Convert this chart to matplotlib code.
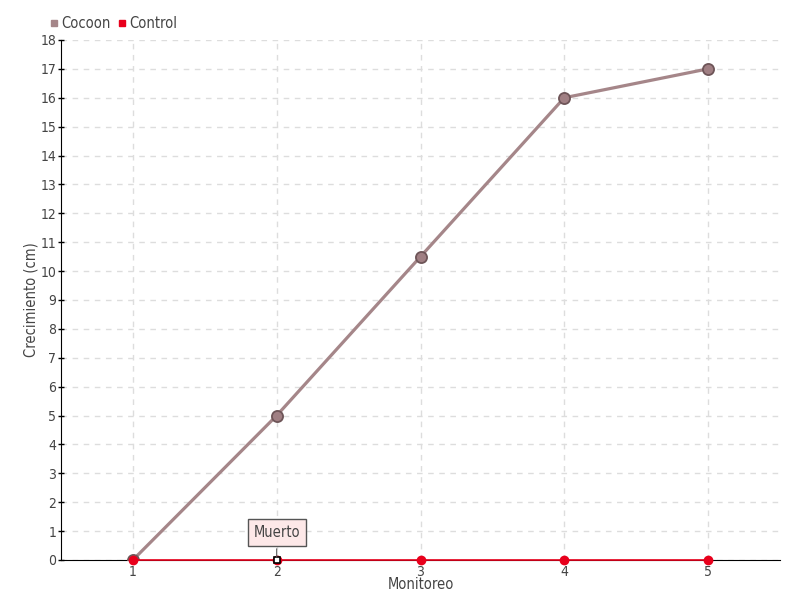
import matplotlib
matplotlib.use("Agg")
import matplotlib.pyplot as plt
import numpy as np

monitoreo = [1, 2, 3, 4, 5]
cocoon = [0, 5, 10.5, 16, 17]
control = [0, 0, 0, 0, 0]
yticks = list(range(0, 19))
annot_x = 2
annot_text = "Muerto"

plt.rcParams['font.family'] = ['DejaVu Sans']
plt.rcParams['font.stretch'] = 'condensed'

fig = plt.figure(figsize=(8, 6), dpi=100)
ax = fig.add_axes([0.07625, 0.0667, 0.89875, 0.8667])

ax.set_xlim(0.5, 5.5)
ax.set_ylim(0, 18)
ax.set_xticks(monitoreo)
ax.set_yticks(yticks)
ax.grid(True, color='#dddddd', linestyle=(0, (4, 4)), linewidth=1)
ax.set_axisbelow(True)
for s in ['top', 'right']:
    ax.spines[s].set_visible(False)
ax.spines['left'].set_color('black')
ax.spines['bottom'].set_color('black')
ax.tick_params(axis='both', colors='black', labelcolor='#444444', labelsize=10,
               length=5, width=1, direction='inout', pad=1)

ax.plot(monitoreo, cocoon, color='#a58689', linewidth=2.3, marker='o', markersize=8,
        markerfacecolor='#a07f83', markeredgecolor='#6e5558', markeredgewidth=1.3,
        label='Cocoon', zorder=3)
ax.plot(monitoreo, control, color='#e8001c', linewidth=1.2, marker='o', markersize=6,
        markerfacecolor='#e8001c', markeredgecolor='#e8001c', label='Control', zorder=4, clip_on=False)
ax.plot([annot_x], [0], marker='s', markersize=5, markerfacecolor='white',
        markeredgecolor='black', markeredgewidth=1.2, zorder=5, clip_on=False)

ax.annotate(annot_text, xy=(annot_x, 0), xytext=(0, 20), textcoords='offset points',
            ha='center', va='center', fontsize=10.5, color='#444444',
            bbox=dict(boxstyle='square,pad=0.4', facecolor='#fde8e8', edgecolor='#555555', linewidth=1),
            arrowprops=dict(arrowstyle='-', color='#555555', lw=0.8), zorder=6)

ax.set_xlabel('Monitoreo', fontsize=10.5, color='#444444', labelpad=-1)
ax.set_ylabel('Crecimiento (cm)', fontsize=10.5, color='#444444', labelpad=1)

leg = fig.legend(loc='upper left', bbox_to_anchor=(0.045, 0.995), ncol=2, frameon=False,
                 handlelength=0.6, handletextpad=0.2, columnspacing=0.5, fontsize=10.5,
                 handles=[plt.Line2D([], [], marker='s', linestyle='', color='#a58689', markersize=5),
                          plt.Line2D([], [], marker='s', linestyle='', color='#e8001c', markersize=5)],
                 labels=['Cocoon', 'Control'])
for t in leg.get_texts():
    t.set_color('#444444')

fig.savefig('out.png', dpi=100)
